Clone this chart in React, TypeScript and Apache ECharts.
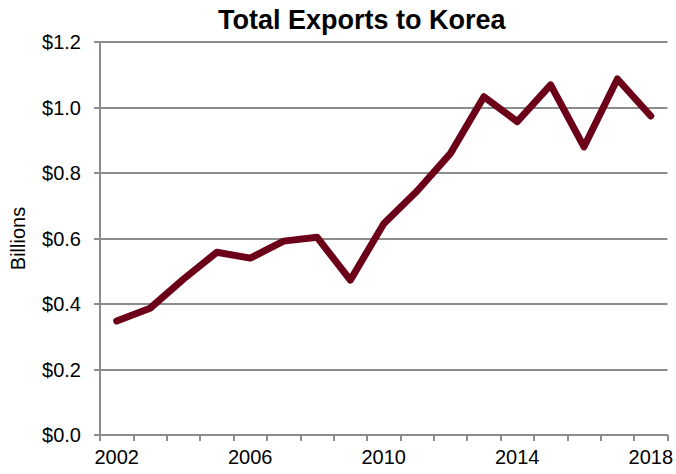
import React, { useEffect, useRef } from "react";
import * as echarts from "echarts";

const years = [
  "2002", "2003", "2004", "2005", "2006", "2007", "2008", "2009", "2010",
  "2011", "2012", "2013", "2014", "2015", "2016", "2017", "2018",
];
const exportsBillions = [
  0.348, 0.387, 0.476, 0.558, 0.540, 0.592, 0.604, 0.473, 0.645,
  0.745, 0.860, 1.033, 0.957, 1.069, 0.880, 1.087, 0.974,
];
const titleText = "Total Exports to Korea";
const yAxisName = "Billions";

const FONT = "'Liberation Sans', Arial, sans-serif";
const GRAY = "#8c8c8c";

export default function App() {
  const ref = useRef<HTMLDivElement>(null);
  useEffect(() => {
    if (!ref.current) return;
    const chart = echarts.init(ref.current, undefined, { renderer: "svg" });
    chart.setOption({
      animation: false,
      backgroundColor: "#ffffff",
      textStyle: { fontFamily: FONT },
      title: {
        text: titleText,
        left: 213,
        top: 1,
        textStyle: { fontFamily: FONT, fontSize: 27, fontWeight: "bold", color: "#000" },
      },
      grid: { left: 100, right: 8, top: 42, bottom: 39, containLabel: false },
      xAxis: {
        type: "category",
        data: years,
        boundaryGap: true,
        axisLine: { show: true, lineStyle: { color: GRAY, width: 2 } },
        axisTick: { show: true, interval: 0, length: 6, lineStyle: { color: GRAY, width: 2 } },
        axisLabel: { interval: 3, fontSize: 20, color: "#000", margin: 12, fontFamily: FONT },
        splitLine: { show: false },
      },
      yAxis: {
        type: "value",
        min: 0,
        max: 1.2,
        interval: 0.2,
        name: yAxisName,
        nameLocation: "middle",
        nameGap: 72,
        nameRotate: 90,
        nameTextStyle: { fontSize: 20, color: "#000", fontFamily: FONT },
        axisLine: { show: true, lineStyle: { color: GRAY, width: 2 } },
        axisTick: { show: true, length: 6, lineStyle: { color: GRAY, width: 2 } },
        axisLabel: {
          fontSize: 20,
          color: "#000",
          margin: 19,
          fontFamily: FONT,
          formatter: (v: number) => "$" + v.toFixed(1),
        },
        splitLine: { show: true, lineStyle: { color: GRAY, width: 2 } },
      },
      series: [
        {
          type: "line",
          data: exportsBillions,
          symbol: "none",
          lineStyle: { color: "#6b0018", width: 7, join: "round", cap: "round" },
          itemStyle: { color: "#6b0018" },
        },
      ],
    });
    return () => chart.dispose();
  }, []);
  return (
    <div
      ref={ref}
      style={{ position: "absolute", left: 0, top: 0, width: 676, height: 474 }}
    />
  );
}
